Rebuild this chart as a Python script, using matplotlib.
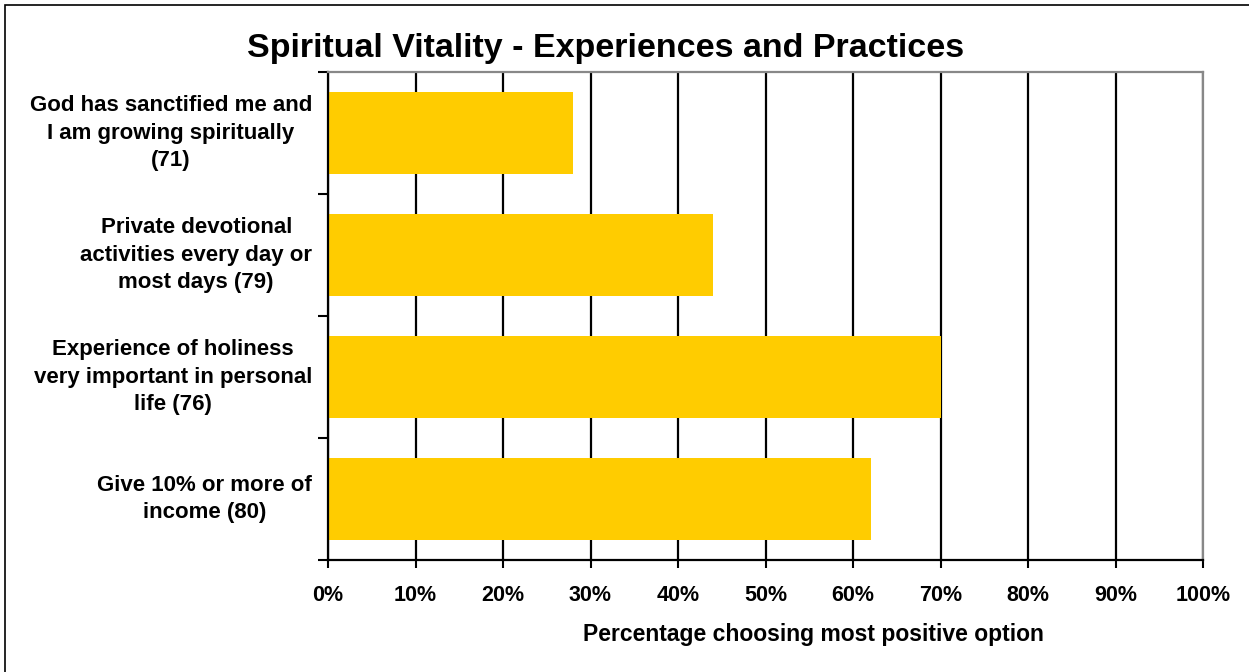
import matplotlib.pyplot as plt
from matplotlib.patches import Rectangle

# data
categories = [
    'God has sanctified me and\nI am growing spiritually\n(71)',
    'Private devotional\nactivities every day or\nmost days (79)',
    'Experience of holiness\nvery important in personal\nlife (76)',
    'Give 10% or more of\nincome (80)',
]
values = [28, 44, 70, 62]
xticks = [0, 10, 20, 30, 40, 50, 60, 70, 80, 90, 100]
xtick_labels = ['%d%%' % t for t in xticks]

plt.rcParams['font.family'] = ['Liberation Sans', 'DejaVu Sans']
plt.rcParams['font.weight'] = 'bold'

W, H = 1249, 672
fig = plt.figure(figsize=(W / 100, H / 100), dpi=100)
ax = fig.add_axes([328 / W, 1 - 560 / H, (1203 - 328) / W, (560 - 72) / H])

pos = list(range(len(categories)))
ax.barh(pos, values, height=0.67, color='#FFCC00', zorder=2)
ax.set_ylim(len(categories) - 0.5, -0.5)
ax.set_xlim(0, 100)

# grid lines at every 10%
ax.set_xticks(xticks)
ax.set_xticklabels(xtick_labels, fontsize=15.5, fontweight='bold')
ax.xaxis.grid(True, color='black', linewidth=1.6, zorder=1)
ax.tick_params(axis='x', length=6, width=1.5, direction='out', pad=12)

# category ticks sit on the boundaries between bars
ax.set_yticks([p - 0.5 for p in pos] + [len(categories) - 0.5])
ax.set_yticklabels([])
ax.tick_params(axis='y', length=7, width=1.5, direction='out')
for p, lab in zip(pos, categories):
    ax.text(-0.018, p, lab, transform=ax.get_yaxis_transform(), ha='right', va='center',
            multialignment='center', fontsize=16, fontweight='bold', linespacing=1.38)

ax.spines['left'].set_linewidth(1.6)
ax.spines['bottom'].set_linewidth(1.6)
ax.spines['top'].set_color('#888888')
ax.spines['right'].set_color('#888888')
ax.spines['top'].set_linewidth(1.6)
ax.spines['right'].set_linewidth(1.6)

fig.text(606 / W, 1 - 49 / H, 'Spiritual Vitality - Experiences and Practices',
         ha='center', va='center', fontsize=24.5, fontweight='bold')
fig.text(813 / W, 1 - 634 / H, 'Percentage choosing most positive option',
         ha='center', va='center', fontsize=16.5, fontweight='bold')

# outer chart border
fig.patches.append(Rectangle((5 / W, -0.01), 1.02, 1 - 5 / H + 0.01, transform=fig.transFigure,
                             fill=False, edgecolor='black', linewidth=1.2))

fig.savefig('out.png', dpi=100)
